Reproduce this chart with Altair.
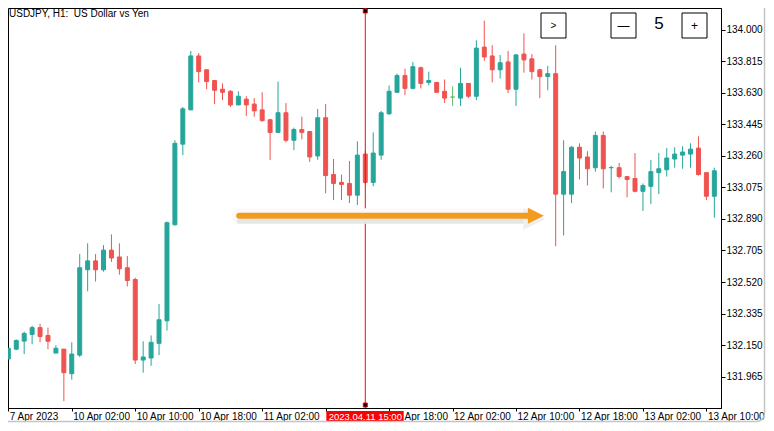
import json
import altair as alt
import pandas as pd

# ---------------- data ----------------
opens = [132.069, 132.127, 132.174, 132.213, 132.253, 132.207, 132.104, 132.127, 131.983, 132.092,
         132.592, 132.644, 132.592, 132.707, 132.667, 132.604, 132.535, 132.063, 132.075, 132.161,
         132.293, 132.856, 133.328, 133.529, 133.845, 133.764, 133.701, 133.650, 133.638, 133.558,
         133.592, 133.563, 133.529, 133.471, 133.397, 133.512, 133.351, 133.414, 133.402, 133.259,
         133.483, 133.150, 133.104, 133.098, 133.029, 133.270, 133.104, 133.264, 133.506, 133.632,
         133.730, 133.655, 133.776, 133.690, 133.690, 133.638, 133.604, 133.598, 133.684, 133.609,
         133.897, 133.845, 133.764, 133.810, 133.650, 133.856, 133.828, 133.764, 133.724, 133.741,
         133.035, 133.035, 133.310, 133.253, 133.190, 133.379, 133.190, 133.190, 133.138, 133.127,
         133.052, 133.081, 133.161, 133.178, 133.241, 133.264, 133.270, 133.305, 133.161, 133.023]
highs = [132.132, 132.184, 132.230, 132.264, 132.276, 132.253, 132.150, 132.127, 132.167, 132.684,
         132.747, 132.684, 132.736, 132.799, 132.747, 132.673, 132.546, 132.173, 132.207, 132.391,
         132.874, 133.351, 133.546, 133.874, 133.862, 133.764, 133.701, 133.684, 133.644, 133.638,
         133.609, 133.598, 133.632, 133.477, 133.695, 133.569, 133.425, 133.489, 133.402, 133.535,
         133.563, 133.241, 133.150, 133.230, 133.345, 133.287, 133.397, 133.523, 133.672, 133.741,
         133.770, 133.810, 133.782, 133.753, 133.690, 133.707, 133.667, 133.776, 133.684, 133.937,
         134.052, 133.908, 133.851, 133.874, 133.856, 133.977, 133.856, 133.770, 133.787, 133.908,
         133.351, 133.316, 133.333, 133.287, 133.402, 133.402, 133.201, 133.218, 133.138, 133.276,
         133.098, 133.236, 133.276, 133.305, 133.310, 133.316, 133.333, 133.374, 133.161, 133.190]
lows = [132.069, 132.121, 132.098, 132.155, 132.167, 132.127, 132.104, 131.822, 131.948, 132.081,
        132.466, 132.523, 132.581, 132.638, 132.563, 132.494, 132.040, 131.989, 132.029, 132.092,
        132.236, 132.851, 133.264, 133.529, 133.690, 133.650, 133.563, 133.586, 133.546, 133.558,
        133.494, 133.489, 133.460, 133.236, 133.397, 133.339, 133.293, 133.356, 133.224, 133.236,
        133.040, 133.000, 133.000, 132.983, 132.971, 133.092, 133.081, 133.236, 133.500, 133.632,
        133.615, 133.650, 133.655, 133.672, 133.632, 133.569, 133.552, 133.552, 133.598, 133.586,
        133.816, 133.690, 133.713, 133.627, 133.552, 133.747, 133.707, 133.598, 133.644, 132.730,
        132.793, 132.983, 133.121, 133.086, 133.167, 133.069, 133.046, 133.127, 133.017, 133.046,
        132.937, 132.977, 133.035, 133.138, 133.190, 133.184, 133.190, 133.144, 133.000, 132.897]
closes = [132.132, 132.178, 132.219, 132.253, 132.201, 132.173, 132.132, 131.989, 132.098, 132.604,
          132.644, 132.592, 132.707, 132.661, 132.598, 132.529, 132.063, 132.081, 132.167, 132.299,
          132.868, 133.333, 133.535, 133.845, 133.753, 133.695, 133.644, 133.632, 133.558, 133.609,
          133.558, 133.523, 133.466, 133.397, 133.512, 133.351, 133.414, 133.397, 133.253, 133.483,
          133.144, 133.098, 133.092, 133.029, 133.264, 133.104, 133.276, 133.512, 133.638, 133.730,
          133.655, 133.782, 133.684, 133.701, 133.632, 133.598, 133.604, 133.684, 133.609, 133.891,
          133.839, 133.764, 133.805, 133.650, 133.851, 133.822, 133.753, 133.724, 133.741, 133.035,
          133.167, 133.310, 133.247, 133.184, 133.379, 133.184, 133.191, 133.138, 133.121, 133.052,
          133.086, 133.167, 133.184, 133.247, 133.270, 133.282, 133.299, 133.150, 133.023, 133.172]

# time-axis labels as they are visible in the reference (the crosshair date box hides
# the 11 Apr 10:00 label and the "11 " of the 11 Apr 18:00 label)
time_tick_index = [0, 8, 16, 24, 32, 40, 48, 56, 64, 72, 80, 88]
time_tick_labels = ["7 Apr 2023", "10 Apr 02:00", "10 Apr 10:00", "10 Apr 18:00",
                    "11 Apr 02:00", "", "Apr 18:00", "12 Apr 02:00",
                    "12 Apr 10:00", "12 Apr 18:00", "13 Apr 02:00", "13 Apr 10:00"]
price_ticks = [131.965, 132.150, 132.335, 132.520, 132.705, 132.890,
               133.075, 133.260, 133.445, 133.630, 133.815, 134.000]

title_text = "USDJPY, H1:\u00a0 US Dollar vs Yen"
cursor_index = 45
cursor_label = "2023.04.11 15:00"
arrow_start, arrow_end, arrow_head = 29.1, 65.6, 66.5
arrow_price = 132.908

# ---------------- layout constants ----------------
W, H = 713, 400
PAD_R, PAD_B = 45, 15
GREEN, RED, DOJI = "#26A69A", "#EF5350", "#66BB6A"
FONT = "Liberation Sans, Arial, sans-serif"

n = len(opens)
df = pd.DataFrame({"idx": list(range(n)), "open": opens, "high": highs,
                   "low": lows, "close": closes})
df["dir"] = ["up" if c > o else ("down" if c < o else "doji") for o, c in zip(opens, closes)]
df["x0"] = df["idx"] - 0.25
df["x1"] = df["idx"] + 0.25

xscale = alt.Scale(domain=[-0.04, 89.84], nice=False, zero=False)
yscale = alt.Scale(domain=[131.782, 134.126], nice=False, zero=False)
cscale = alt.Scale(domain=["up", "down", "doji"], range=[GREEN, RED, DOJI])

label_expr = json.dumps(time_tick_labels) + "[round(datum.value / 8)]"

x_axis = alt.Axis(values=time_tick_index, labelExpr=label_expr, title=None, grid=False,
                  tickSize=3, labelPadding=0, labelAlign="left", labelBaseline="top",
                  labelOffset={"condition": {"test": "datum.value == 48", "value": 15}, "value": 1},
                  labelFlush=False, labelOverlap=False, labelBound=False)
y_axis = alt.Axis(orient="right", values=price_ticks, format=".3f", title=None, grid=False,
                  tickSize=4, labelPadding=1, labelAlign="left", labelBaseline="middle",
                  labelFlush=False, labelOverlap=False, labelBound=False)


def X(field):
    return alt.X(field, type="quantitative", scale=xscale, axis=x_axis)


def Y(field):
    return alt.Y(field, type="quantitative", scale=yscale, axis=y_axis)


base = alt.Chart(df)

wicks = base.mark_rule(strokeWidth=1, clip=True).encode(
    x=X("idx"), y=Y("low"), y2="high",
    color=alt.Color("dir:N", scale=cscale, legend=None),
)

bodies = base.mark_rect(strokeWidth=1, clip=True).encode(
    x=X("x0"), x2="x1", y=Y("open"), y2="close",
    fill=alt.Fill("dir:N", scale=cscale, legend=None),
    stroke=alt.Stroke("dir:N", scale=cscale, legend=None),
)

cur_df = pd.DataFrame({"idx": [cursor_index], "lo": [cursor_index - 4.91],
                       "hi": [cursor_index + 4.84], "label": [cursor_label]})
cur = alt.Chart(cur_df)

cursor_line = cur.mark_rule(color="#FF0000", strokeWidth=1).encode(
    x=X("idx"), y=alt.value(0), y2=alt.value(H))
sq_top = cur.mark_square(size=16, filled=True, fill="black", stroke="#FF0000",
                         strokeWidth=1, opacity=1).encode(x=X("idx"), y=alt.value(3))
sq_bot = cur.mark_square(size=16, filled=True, fill="black", stroke="#FF0000",
                         strokeWidth=1, opacity=1).encode(x=X("idx"), y=alt.value(H - 3))
cur_rect = cur.mark_rect(fill="#FF0000", clip=False).encode(
    x=X("lo"), x2="hi", y=alt.value(H + 3), y2=alt.value(H + 14))
cur_text = cur.mark_text(color="white", font=FONT, fontSize=9.5, align="center",
                         baseline="alphabetic", clip=False).encode(
    x=X("idx"), y=alt.value(H + 12), text="label:N")

# ---- arrow ----
arr_df = pd.DataFrame({"a": [arrow_start], "b": [arrow_end], "h": [arrow_head],
                       "p": [arrow_price], "ps": [arrow_price - 0.032],
                       "hs": [arrow_head - 0.2], "phs": [arrow_price - 0.018]})
arr = alt.Chart(arr_df)
arrow_glow = arr.mark_rule(color="#FAFAFA", strokeWidth=15, strokeCap="round").encode(
    x=X("a"), x2="b", y=Y("p"))
arrow_shadow = arr.mark_rule(color="#E6E6E6", strokeWidth=5, strokeCap="round").encode(
    x=X("a"), x2="b", y=Y("ps"))
head_shape = "M-1,-1L1,0L-1,1Z"
head_shadow = arr.mark_point(shape=head_shape, size=480, filled=True, fill="#EFEFEF",
                             opacity=1, strokeWidth=0).encode(x=X("hs"), y=Y("phs"))
arrow_shaft = arr.mark_rule(color="#F29B20", strokeWidth=6, strokeCap="round").encode(
    x=X("a"), x2="b", y=Y("p"))
arrow_headm = arr.mark_point(shape=head_shape, size=256, filled=True, fill="#F29B20",
                             opacity=1, strokeWidth=0).encode(x=X("h"), y=Y("p"))

# ---- buttons and texts (chart chrome) ----
one = alt.Chart(pd.DataFrame({"k": [0]}))
buttons = []
for bx in (533, 603, 674):
    buttons.append(one.mark_rect(fill="white", stroke="black", strokeWidth=1).encode(
        x=alt.value(bx), x2=alt.value(bx + 25), y=alt.value(5), y2=alt.value(30)))
btn_texts = [
    one.mark_text(text=">", font=FONT, fontSize=10, color="black", align="center",
                  baseline="middle").encode(x=alt.value(545.5), y=alt.value(17.5)),
    one.mark_text(text="\u2014", font=FONT, fontSize=12, color="black",
                  align="center", baseline="middle").encode(x=alt.value(615.5), y=alt.value(17.5)),
    one.mark_text(text="+", font=FONT, fontSize=12, color="black",
                  align="center", baseline="middle").encode(x=alt.value(686.5), y=alt.value(18)),
    one.mark_text(text="5", font=FONT, fontSize=17, color="black",
                  align="center", baseline="alphabetic").encode(x=alt.value(651), y=alt.value(21)),
]
title = one.mark_text(text=title_text, font=FONT, fontSize=10, color="black",
                      align="left", baseline="alphabetic").encode(x=alt.value(1), y=alt.value(9))
frame = one.mark_rect(filled=False, stroke="#C4C4C4", strokeWidth=1.5,
                      cornerRadius=8, clip=False).encode(
    x=alt.value(-10), x2=alt.value(W + PAD_R - 1.5), y=alt.value(-10), y2=alt.value(H + PAD_B - 1.5))

chart = alt.layer(
    wicks, bodies, cursor_line, sq_top, sq_bot,
    arrow_glow, arrow_shadow, head_shadow, arrow_shaft, arrow_headm,
    *buttons, *btn_texts, title, cur_rect, cur_text, frame,
).properties(
    width=W, height=H,
    padding={"left": 0, "top": 0, "right": PAD_R, "bottom": PAD_B},
    autosize=alt.AutoSizeParams(type="none"),
    background="white",
).configure_view(
    stroke="black", strokeWidth=1
).configure_axis(
    domainColor="black", tickColor="black", labelColor="black",
    labelFont=FONT, labelFontSize=10, domainWidth=1, tickWidth=1,
)

chart.save("out.html", embed_options={"renderer": "svg", "actions": False})
